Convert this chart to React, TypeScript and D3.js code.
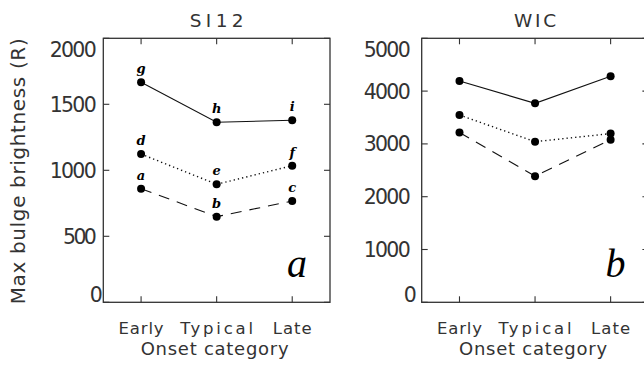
import React from "react";
import * as d3 from "d3";

const categories = ["Early", "Typical", "Late"];

// SI12 panel values (R)
const si12Solid = [1667, 1364, 1379];
const si12Dotted = [1123, 894, 1035];
const si12Dashed = [861, 649, 767];
const si12SolidLabels = ["g", "h", "i"];
const si12DottedLabels = ["d", "e", "f"];
const si12DashedLabels = ["a", "b", "c"];

// WIC panel values (R)
const wicSolid = [4191, 3769, 4280];
const wicDotted = [3547, 3042, 3195];
const wicDashed = [3216, 2389, 3080];

const si12Ticks = [0, 500, 1000, 1500, 2000];
const wicTicks = [0, 1000, 2000, 3000, 4000, 5000];

const W = 644;
const H = 368;
const TOP = 38.3;
const BOTTOM = 302.3;
const PW = 226.7;
const FONT = "'DejaVu Sans', sans-serif";
const INK = "#333";

// widths of the wide plotter-style labels
const catWidths: Record<string, number> = { Early: 45, Typical: 73, Late: 39 };

type Series = { values: number[]; dash: string; width: number; labels?: string[] };
type Panel = {
  title: string;
  titleW: number;
  left: number;
  max: number;
  ticks: number[];
  series: Series[];
  letter: string;
  labelGap: number;
};

const panels: Panel[] = [
  {
    title: "SI12",
    titleW: 54,
    left: 103.3,
    max: 2000,
    ticks: si12Ticks,
    letter: "a",
    labelGap: 6.6,
    series: [
      { values: si12Solid, dash: "none", width: 1.1, labels: si12SolidLabels },
      { values: si12Dotted, dash: "1.3 3", width: 1.4, labels: si12DottedLabels },
      { values: si12Dashed, dash: "11 8", width: 1.1, labels: si12DashedLabels },
    ],
  },
  {
    title: "WIC",
    titleW: 42,
    left: 421.7,
    max: 5000,
    ticks: wicTicks,
    letter: "b",
    labelGap: 11,
    series: [
      { values: wicSolid, dash: "none", width: 1.1 },
      { values: wicDotted, dash: "1.3 3", width: 1.4 },
      { values: wicDashed, dash: "11 8", width: 1.1 },
    ],
  },
];

function PanelView({ p }: { p: Panel }) {
  const x = d3.scaleBand<string>().domain(categories).range([p.left, p.left + PW]).padding(0);
  const cx = (c: string) => (x(c) as number) + x.bandwidth() / 2;
  const y = d3.scaleLinear().domain([0, p.max]).range([BOTTOM, TOP]);
  const line = d3
    .line<number>()
    .x((_, i) => cx(categories[i]))
    .y((v) => y(v));
  const right = p.left + PW;
  const tl = 6;
  const n = p.ticks.length;
  return (
    <g>
      <text
        x={p.left + PW / 2}
        y={26.7}
        textAnchor="middle"
        fontFamily={FONT}
        fontSize={18.5}
        fill={INK}
        textLength={p.titleW}
        lengthAdjust="spacing"
      >
        {p.title}
      </text>
      {/* frame */}
      <rect x={p.left} y={TOP} width={PW} height={BOTTOM - TOP} fill="none" stroke="#333" strokeWidth={1.3} />
      {/* y ticks */}
      {p.ticks.map((t, i) => {
        const s = String(t);
        const tw = 13.3 * (s.length - 1) + 7;
        return (
          <g key={"y" + t}>
            <line x1={p.left} x2={p.left + tl} y1={y(t)} y2={y(t)} stroke="#333" strokeWidth={1.1} />
            <line x1={right} x2={right - tl} y1={y(t)} y2={y(t)} stroke="#333" strokeWidth={1.1} />
            <text
              x={p.left - p.labelGap - tw}
              y={i === 0 ? y(t) - 0.8 : i === n - 1 ? y(t) + 18.4 : y(t) + 7.5}
              textAnchor="start"
              fontFamily={FONT}
              fontSize={20.5}
              fill={INK}
              textLength={tw}
              lengthAdjust="spacing"
            >
              {s}
            </text>
          </g>
        );
      })}
      {/* x ticks */}
      {categories.map((c) => (
        <g key={"x" + c}>
          <line x1={cx(c)} x2={cx(c)} y1={BOTTOM} y2={BOTTOM - tl} stroke="#333" strokeWidth={1.1} />
          <line x1={cx(c)} x2={cx(c)} y1={TOP} y2={TOP + tl} stroke="#333" strokeWidth={1.1} />
          <text
            x={cx(c)}
            y={333.5}
            textAnchor="middle"
            fontFamily={FONT}
            fontSize={16.5}
            fill={INK}
            textLength={catWidths[c]}
            lengthAdjust="spacing"
          >
            {c}
          </text>
        </g>
      ))}
      <text
        x={p.left + PW / 2 - 2}
        y={355.3}
        textAnchor="middle"
        fontFamily={FONT}
        fontSize={18}
        fill={INK}
        textLength={148}
        lengthAdjust="spacing"
      >
        Onset category
      </text>
      {/* series */}
      {p.series.map((s, si) => (
        <g key={"s" + si}>
          <path d={line(s.values) as string} fill="none" stroke="#111" strokeWidth={s.width} strokeDasharray={s.dash} />
          {s.values.map((v, i) => (
            <circle key={i} cx={cx(categories[i])} cy={y(v)} r={4} fill="#000" />
          ))}
          {s.labels &&
            s.values.map((v, i) => (
              <text
                key={"l" + i}
                x={cx(categories[i])}
                y={y(v) - 9}
                textAnchor="middle"
                fontFamily="'DejaVu Serif', serif"
                fontStyle="italic"
                fontWeight="bold"
                fontSize={13}
                fill="#000"
              >
                {s.labels![i]}
              </text>
            ))}
        </g>
      ))}
      <text
        x={right - 23}
        y={276.7}
        textAnchor="end"
        fontFamily="'Liberation Serif', serif"
        fontStyle="italic"
        fontSize={40}
        fill="#000"
      >
        {p.letter}
      </text>
    </g>
  );
}

export default function App() {
  return (
    <svg
      width={W}
      height={H}
      viewBox={`0 0 ${W} ${H}`}
      style={{ position: "absolute", left: 0, top: 0, background: "#fff" }}
    >
      <rect x={0} y={0} width={W} height={H} fill="#fff" />
      <text
        transform={`translate(25,${(TOP + BOTTOM) / 2 + 1}) rotate(-90)`}
        textAnchor="middle"
        fontFamily={FONT}
        fontSize={20}
        fill={INK}
        textLength={266}
        lengthAdjust="spacing"
      >
        Max bulge brightness (R)
      </text>
      {panels.map((p) => (
        <PanelView key={p.title} p={p} />
      ))}
    </svg>
  );
}
